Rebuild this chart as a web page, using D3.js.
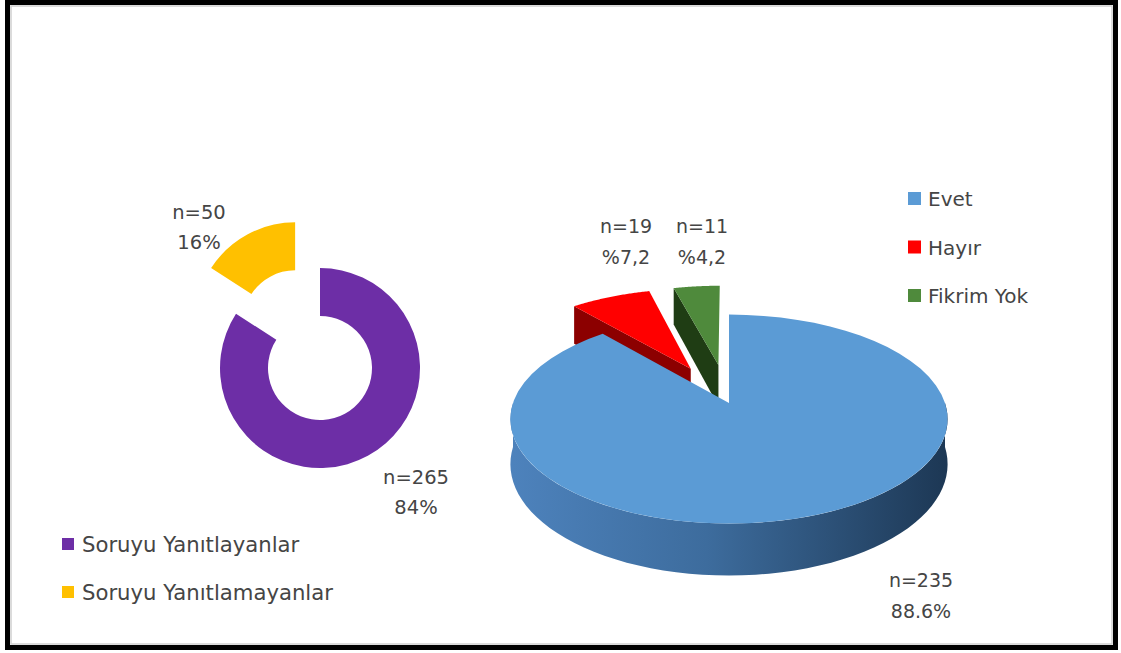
<!DOCTYPE html>
<html>
<head>
<meta charset="utf-8">
<script src="https://cdn.jsdelivr.net/npm/d3@7"></script>
<style>
  body { margin: 0; background: #fff; }
  text { font-family: "DejaVu Sans", Verdana, sans-serif; fill: #454545; }
</style>
</head>
<body>
<svg id="chart"></svg>
<script>
{ // limit scope...
const width = 1121,
      height = 653;

// Left chart: who answered the question.
const groups = ["Soruyu Yanıtlayanlar", "Soruyu Yanıtlamayanlar"];
const groupCounts = [265, 50];
const groupPercents = ["84%", "16%"];

// Right chart: answers of those who answered.
const answers = ["Evet", "Hayır", "Fikrim Yok"];
const answerCounts = [235, 19, 11];
const answerPercents = ["88.6%", "%7,2", "%4,2"];

const groupColors = ["#6d2ea6", "#ffc000"];
const answerColors = ["#5b9bd5", "#ff0000", "#4f8a3c"];
const answerSides = ["url(#blue-side)", "#8c0000", "#1f3d14"];

const svg = d3.select("#chart")
    .attr("width", width)
    .attr("height", height)
    .attr("viewBox", [0, 0, width, height]);

const defs = svg.append("defs");
const grad = defs.append("linearGradient")
    .attr("id", "blue-side")
    .attr("gradientUnits", "userSpaceOnUse")
    .attr("x1", 513).attr("x2", 945).attr("y1", 0).attr("y2", 0);
[["0%", "#4d82bc"], ["45%", "#3d6c9d"], ["100%", "#1d3855"]].forEach(s =>
    grad.append("stop").attr("offset", s[0]).attr("stop-color", s[1]));

// Frame.
svg.append("rect")
    .attr("x", 7.5).attr("y", 2.5)
    .attr("width", 1108).attr("height", 645)
    .attr("fill", "#fff")
    .attr("stroke", "#000")
    .attr("stroke-width", 5);
svg.append("rect")
    .attr("x", 11).attr("y", 6)
    .attr("width", 1101).attr("height", 638)
    .attr("fill", "none")
    .attr("stroke", "#d0d0d0")
    .attr("stroke-width", 1.5);

// ---- Donut ----
const donut = {cx: 320, cy: 368, inner: 52, outer: 100, explode: [0, 52]};
const donutPie = d3.pie().sort(null)(groupCounts);
const donutArc = d3.arc().innerRadius(donut.inner).outerRadius(donut.outer);

const dg = svg.append("g").attr("transform", `translate(${donut.cx},${donut.cy})`);
dg.selectAll("path")
    .data(donutPie)
    .join("path")
        .attr("d", donutArc)
        .attr("fill", (d, i) => groupColors[i])
        .attr("transform", (d, i) => {
            const a = (d.startAngle + d.endAngle) / 2;
            const e = donut.explode[i];
            return `translate(${e * Math.sin(a)},${-e * Math.cos(a)})`;
        });

// label offsets from the donut centre
const donutLabelPos = [[96, 116], [-121, -149]];
donutPie.forEach((d, i) => {
    const t = dg.append("text")
        .attr("text-anchor", "middle")
        .attr("font-size", 19.5)
        .attr("x", donutLabelPos[i][0])
        .attr("y", donutLabelPos[i][1]);
    t.append("tspan").text(`n=${groupCounts[i]}`);
    t.append("tspan").attr("x", donutLabelPos[i][0]).attr("dy", 30).text(groupPercents[i]);
});

// Left legend.
const legL = svg.append("g").attr("transform", "translate(62,552)");
groups.forEach((g, i) => {
    legL.append("rect")
        .attr("x", 0).attr("y", i * 48 - 14)
        .attr("width", 12).attr("height", 12)
        .attr("fill", groupColors[i]);
    legL.append("text")
        .attr("x", 20).attr("y", i * 48)
        .attr("font-size", 21.2)
        .text(g);
});

// ---- 3D pie ----
const P = {cx: 729, cy: 403, rx: 216, ry: 102, k: 0.154, h: 44, explode: [0, 0.4, 0.4]};

// u: right, v: toward viewer, z: pixels downward
function proj(u, v, z) {
    const w = 1 - P.k * v;
    return [P.cx + P.rx * u / w, P.cy + (P.ry * v + z) / w];
}

const pie3 = d3.pie().sort(null)(answerCounts);
const line = d3.line();

function slicePaths(d, i) {
    const mid = (d.startAngle + d.endAngle) / 2;
    const ou = P.explode[i] * Math.sin(mid),
          ov = -P.explode[i] * Math.cos(mid);
    const pt = (a, r, z) => proj(ou + r * Math.sin(a), ov - r * Math.cos(a), z);
    const arcPts = (a0, a1, z) => d3.range(0, 61).map(j => pt(a0 + (a1 - a0) * j / 60, 1, z));

    const out = [];
    // outer wall, front half only
    const w0 = Math.max(d.startAngle, Math.PI / 2),
          w1 = Math.min(d.endAngle, 3 * Math.PI / 2);
    if (w1 > w0) {
        const pts = arcPts(w0, w1, 0).concat(arcPts(w0, w1, P.h).reverse());
        out.push({d: line(pts) + "Z", fill: answerSides[i]});
    }
    // radial cut faces that face the viewer
    if (Math.sin(d.startAngle) < -1e-6) {
        const a = d.startAngle;
        out.push({d: line([pt(a, 0, 0), pt(a, 1, 0), pt(a, 1, P.h), pt(a, 0, P.h)]) + "Z",
                  fill: answerSides[i]});
    }
    if (Math.sin(d.endAngle) > 1e-6) {
        const a = d.endAngle;
        out.push({d: line([pt(a, 0, 0), pt(a, 1, 0), pt(a, 1, P.h), pt(a, 0, P.h)]) + "Z",
                  fill: answerSides[i]});
    }
    // top face
    out.push({d: line([pt(0, 0, 0)].concat(arcPts(d.startAngle, d.endAngle, 0))) + "Z",
              fill: answerColors[i]});
    return out;
}

// back slices first, left to right; the big front slice last
const total = d3.sum(answerCounts);
const order = pie3.map((d, i) => i).sort((a, b) => {
    const ma = (pie3[a].startAngle + pie3[a].endAngle) / 2,
          mb = (pie3[b].startAngle + pie3[b].endAngle) / 2;
    return (pie3[a].value / total > 0.5) - (pie3[b].value / total > 0.5) || Math.sin(ma) - Math.sin(mb);
});

const pg = svg.append("g");
order.forEach(i => {
    pg.append("g").selectAll("path")
        .data(slicePaths(pie3[i], i))
        .join("path")
            .attr("d", p => p.d)
            .attr("fill", p => p.fill);
});

// label offsets from the pie centre
const pieLabelPos = [[192, 184], [-103, -170], [-27, -170]];
pie3.forEach((d, i) => {
    const x = P.cx + pieLabelPos[i][0],
          y = P.cy + pieLabelPos[i][1];
    const t = svg.append("text")
        .attr("text-anchor", "middle")
        .attr("font-size", 19)
        .attr("x", x).attr("y", y);
    t.append("tspan").text(`n=${answerCounts[i]}`);
    t.append("tspan").attr("x", x).attr("dy", 31).text(answerPercents[i]);
});

// Right legend.
const legR = svg.append("g").attr("transform", "translate(908,206)");
answers.forEach((a, i) => {
    legR.append("rect")
        .attr("x", 0).attr("y", i * 48.5 - 14)
        .attr("width", 13).attr("height", 13)
        .attr("fill", answerColors[i]);
    legR.append("text")
        .attr("x", 20).attr("y", i * 48.5)
        .attr("font-size", 20)
        .text(a);
});
}
</script>
</body>
</html>
